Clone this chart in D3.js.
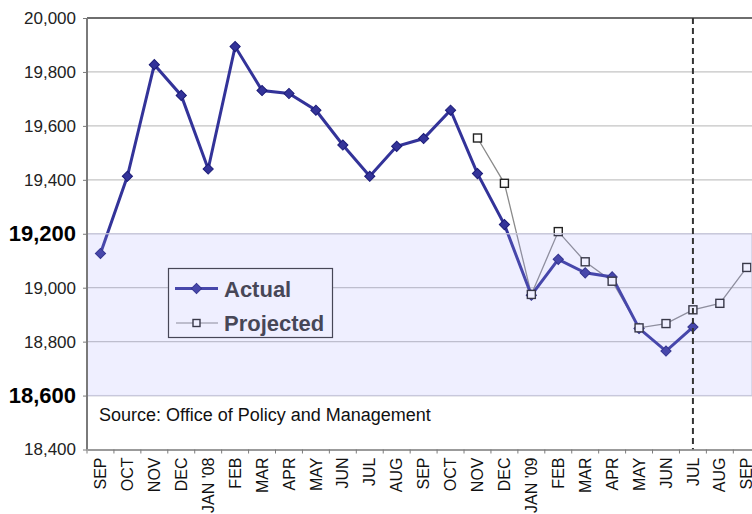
<!DOCTYPE html>
<html>
<head>
  <meta charset="UTF-8">
  <style>
    body {
      margin: 0;
      padding: 0;
      background: #fff;
      font-family: "Liberation Sans", Arial, sans-serif;
    }
  </style>
</head>
<body>
  <svg width="752" height="514"></svg>
  <script src="https://d3js.org/d3.v7.min.js"></script>
  <script>
    const width = 752, height = 514;

    // month labels, Sep 2007 .. Sep 2009
    const months = ["SEP", "OCT", "NOV", "DEC", "JAN '08", "FEB", "MAR", "APR", "MAY", "JUN", "JUL", "AUG",
                    "SEP", "OCT", "NOV", "DEC", "JAN '09", "FEB", "MAR", "APR", "MAY", "JUN", "JUL", "AUG", "SEP"];

    const actual = [19127, 19413, 19827, 19713, 19440, 19894, 19731, 19720, 19658, 19529, 19413, 19524,
                    19553, 19658, 19423, 19234, 18972, 19105, 19055, 19040, 18849, 18765, 18854, null, null];

    const projected = [null, null, null, null, null, null, null, null, null, null, null, null,
                       null, null, 19555, 19387, 18975, 19208, 19096, 19024, 18851, 18867, 18918, 18942, 19075];

    const yTicks = [18400, 18600, 18800, 19000, 19200, 19400, 19600, 19800, 20000];
    const boldTicks = [18600, 19200];
    const band = [18600, 19200];
    const markerIndex = 22; // JUL '09
    const source = "Source: Office of Policy and Management";

    const plotLeft = 87, plotTop = 18, plotBottom = 449.5, step = 26.93;

    const svg = d3.select("svg");

    const x = d3.scaleBand()
        .domain(d3.range(months.length))
        .range([plotLeft, plotLeft + step * months.length])
        .padding(0);

    const y = d3.scaleLinear()
        .domain([18400, 20000])
        .range([plotBottom, plotTop]);

    const cx = i => x(i) + x.bandwidth() / 2;
    const diamond = d3.symbol(d3.symbolSquare, 52)();

    // gridlines
    svg.append("g")
        .selectAll("line")
        .data(yTicks.filter(d => d > 18400))
        .enter()
        .append("line")
        .attr("x1", plotLeft)
        .attr("x2", width)
        .attr("y1", d => y(d))
        .attr("y2", d => y(d))
        .attr("stroke", d => d === 20000 ? "#6e6e6e" : "#c4c4c4")
        .attr("stroke-width", d => d === 20000 ? 2 : 1.2);

    // legend (sits under the band overlay)
    const legend = svg.append("g");
    legend.append("rect")
        .attr("x", 168.5).attr("y", 268.5)
        .attr("width", 164).attr("height", 69)
        .attr("fill", "#fff")
        .attr("stroke", "#333")
        .attr("stroke-width", 1.2);
    legend.append("line")
        .attr("x1", 175).attr("x2", 218).attr("y1", 288.5).attr("y2", 288.5)
        .attr("stroke", "#333399").attr("stroke-width", 3);
    legend.append("path")
        .attr("d", diamond)
        .attr("transform", "translate(196.5,288.5) rotate(45)")
        .attr("fill", "#333399").attr("stroke", "#1c1c78");
    legend.append("line")
        .attr("x1", 176).attr("x2", 218).attr("y1", 323).attr("y2", 323)
        .attr("stroke", "#888").attr("stroke-width", 1.2);
    legend.append("rect")
        .attr("x", 193).attr("y", 319.5).attr("width", 7).attr("height", 7)
        .attr("fill", "#fff").attr("stroke", "#222").attr("stroke-width", 1.4);
    legend.append("text")
        .attr("x", 224).attr("y", 296.5)
        .attr("font-size", 22).attr("font-weight", "bold").attr("fill", "#333")
        .text("Actual");
    legend.append("text")
        .attr("x", 224).attr("y", 330.5)
        .attr("font-size", 22).attr("font-weight", "bold").attr("fill", "#333")
        .text("Projected");

    // projected series
    const projData = projected.map((v, i) => ({ i, v })).filter(d => d.v !== null);
    const line = d3.line().x(d => cx(d.i)).y(d => y(d.v));

    svg.append("path")
        .datum(projData)
        .attr("d", line)
        .attr("fill", "none")
        .attr("stroke", "#8a8a8a")
        .attr("stroke-width", 1.3);

    // actual series
    const actData = actual.map((v, i) => ({ i, v })).filter(d => d.v !== null);
    svg.append("path")
        .datum(actData)
        .attr("d", line)
        .attr("fill", "none")
        .attr("stroke", "#333399")
        .attr("stroke-width", 3);

    svg.selectAll(".act")
        .data(actData)
        .enter()
        .append("path")
        .attr("class", "act")
        .attr("d", diamond)
        .attr("transform", d => `translate(${cx(d.i)},${y(d.v)}) rotate(45)`)
        .attr("fill", "#333399")
        .attr("stroke", "#1c1c78")
        .attr("stroke-width", 1);

    svg.selectAll(".proj")
        .data(projData)
        .enter()
        .append("rect")
        .attr("class", "proj")
        .attr("x", d => cx(d.i) - 4)
        .attr("y", d => y(d.v) - 4)
        .attr("width", 8)
        .attr("height", 8)
        .attr("fill", "#fff")
        .attr("stroke", "#222")
        .attr("stroke-width", 1.4);

    // translucent band drawn on top
    svg.append("rect")
        .attr("x", plotLeft)
        .attr("y", y(band[1]))
        .attr("width", width - plotLeft)
        .attr("height", y(band[0]) - y(band[1]))
        .attr("fill", "#a8a8ff")
        .attr("fill-opacity", 0.18)
        .attr("stroke", "#c8c8dc")
        .attr("stroke-width", 1.2);

    // dashed marker at JUL '09
    svg.append("line")
        .attr("x1", cx(markerIndex)).attr("x2", cx(markerIndex))
        .attr("y1", plotTop).attr("y2", plotBottom)
        .attr("stroke", "#333")
        .attr("stroke-width", 2)
        .attr("stroke-dasharray", "6,4");

    // source note
    svg.append("text")
        .attr("x", 99).attr("y", 421)
        .attr("font-size", 18).attr("fill", "#111")
        .text(source);

    // y axis
    const yAxis = svg.append("g")
        .attr("transform", `translate(${plotLeft},0)`)
        .call(d3.axisLeft(y).tickValues(yTicks).tickSize(4).tickFormat(d3.format(",")));
    yAxis.select(".domain").attr("stroke", "#7a7a7a").attr("stroke-width", 2).attr("d", `M0,${plotTop}V${plotBottom}`);
    yAxis.selectAll(".tick line").attr("stroke", "#7a7a7a");
    yAxis.selectAll(".tick text")
        .attr("x", -11)
        .attr("font-family", "Liberation Sans, Arial, sans-serif")
        .attr("font-size", d => boldTicks.includes(d) ? 22 : 17)
        .attr("font-weight", d => boldTicks.includes(d) ? "bold" : "normal")
        .attr("fill", d => boldTicks.includes(d) ? "#000" : "#222");

    // x axis
    const xAxis = svg.append("g")
        .attr("transform", `translate(0,${plotBottom})`)
        .call(d3.axisBottom(x).tickSize(0).tickFormat(i => months[i]));
    xAxis.select(".domain").attr("stroke", "#7a7a7a").attr("stroke-width", 1.5);
    xAxis.selectAll(".tick text")
        .attr("font-family", "Liberation Sans, Arial, sans-serif")
        .attr("font-size", 16)
        .attr("fill", "#111")
        .attr("text-anchor", "end")
        .attr("transform", "rotate(-90)")
        .attr("x", -8)
        .attr("y", 0)
        .attr("dy", "0.35em");

    // tick marks between categories
    svg.append("g")
        .selectAll("line")
        .data(d3.range(months.length + 1))
        .enter()
        .append("line")
        .attr("x1", i => plotLeft + i * x.step())
        .attr("x2", i => plotLeft + i * x.step())
        .attr("y1", plotBottom)
        .attr("y2", plotBottom + 4)
        .attr("stroke", "#7a7a7a");
  </script>
</body>
</html>
